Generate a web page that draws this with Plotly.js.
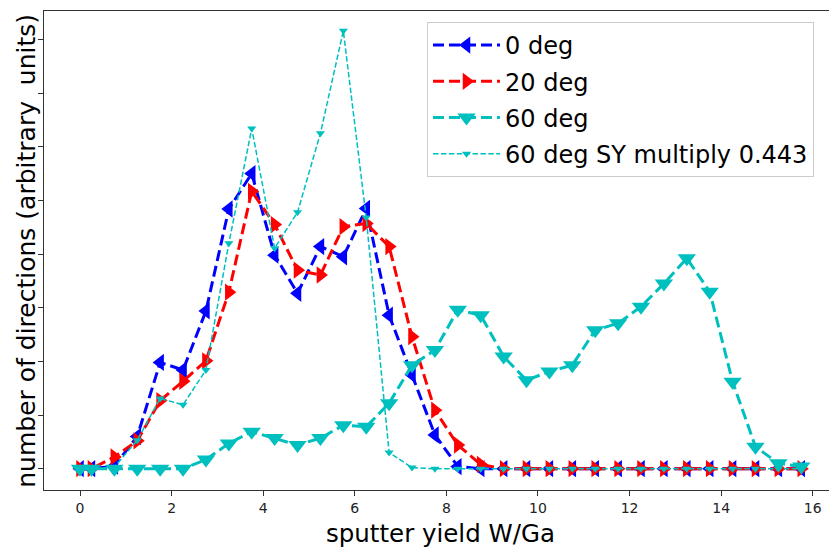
<!DOCTYPE html>
<html>
<head>
<meta charset="utf-8">
<script src="https://cdn.plot.ly/plotly-3.0.1.min.js"></script>
<style>
html, body { margin: 0; padding: 0; overflow: hidden; background: #fff; }
#chart { width: 850px; height: 548px; }
</style>
</head>
<body>
<div id="chart"></div>
<script>
// sputter yield bins (W/Ga)
var sputterYield = [0, 0.25, 0.75, 1.25, 1.75, 2.25, 2.75, 3.25, 3.75, 4.25, 4.75, 5.25, 5.75, 6.25, 6.75, 7.25, 7.75, 8.25,
                    8.75, 9.25, 9.75, 10.25, 10.75, 11.25, 11.75, 12.25, 12.75, 13.25, 13.75, 14.25, 14.75, 15.25, 15.75];

var deg0 = [0, 0, 0.05, 0.60, 1.98, 1.84, 2.94, 4.84, 5.50, 3.98, 3.27, 4.14, 3.95, 4.85, 2.86, 1.75, 0.63, 0.04,
            0, 0, 0, 0, 0, 0, 0, 0, 0, 0, 0, 0, 0, 0, 0];

var deg20 = [0, 0, 0.22, 0.52, 1.27, 1.63, 2.01, 3.29, 5.17, 4.55, 3.70, 3.61, 4.51, 4.57, 4.14, 2.46, 1.09, 0.44,
             0.08, 0, 0, 0, 0, 0, 0, 0, 0, 0, 0, 0, 0, 0, 0];

var deg60 = [0, 0, 0, 0, 0, 0, 0.17, 0.47, 0.69, 0.57, 0.44, 0.57, 0.81, 0.78, 1.22, 1.93, 2.21, 2.96,
             2.86, 2.09, 1.65, 1.81, 1.93, 2.58, 2.71, 3.02, 3.45, 3.92, 3.30, 1.62, 0.41, 0.10, 0.04];

var deg60SY = [0, 0, 0.03, 0.53, 1.31, 1.19, 1.84, 4.20, 6.34, 4.11, 4.78, 6.25, 8.16, 4.68, 0.30, 0.02, 0, 0,
               0, 0, 0, 0, 0, 0, 0, 0, 0, 0, 0, 0, 0, 0, 0];

var seriesNames = ['0 deg', '20 deg', '60 deg', '60 deg SY multiply 0.443'];
var yTicks = [0, 1, 2, 3, 4, 5, 6, 7, 8];
var xTicks = [0, 2, 4, 6, 8, 10, 12, 14, 16];

var FONT = 'DejaVu Sans, sans-serif';
var thickDash = '11px,5px';
var thinDash = '5.5px,2.4px';

var traces = [
  {x: sputterYield, y: deg0, name: seriesNames[0], mode: 'lines+markers', legendgroup: 'a',
   line: {color: '#0000ff', width: 3, dash: thickDash},
   marker: {symbol: 'triangle-left', size: 15, color: '#0000ff'}},
  {x: sputterYield, y: deg20, name: seriesNames[1], mode: 'lines+markers', legendgroup: 'b',
   line: {color: '#ff0000', width: 3, dash: thickDash},
   marker: {symbol: 'triangle-right', size: 15, color: '#ff0000'}},
  {x: sputterYield, y: deg60, name: seriesNames[2], mode: 'lines+markers', legendgroup: 'c',
   line: {color: '#00bfbf', width: 3, dash: thickDash},
   marker: {symbol: 'triangle-down', size: 16, color: '#00bfbf'}},
  {x: sputterYield, y: deg60SY, name: seriesNames[3], mode: 'lines+markers', legendgroup: 'd',
   line: {color: '#00bfbf', width: 1.5, dash: thinDash},
   marker: {symbol: 'triangle-down', size: 8, color: '#00bfbf'}}
];

var layout = {
  width: 850, height: 548,
  margin: {l: 44, r: 13, t: 11, b: 58},
  paper_bgcolor: '#ffffff', plot_bgcolor: '#ffffff',
  font: {family: FONT, size: 14, color: '#000'},
  showlegend: true,
  legend: {
    x: 0.483, xanchor: 'left', y: 0.977, yanchor: 'top',
    bgcolor: 'rgba(255,255,255,0.85)', bordercolor: '#cccccc', borderwidth: 1,
    font: {family: FONT, size: 24, color: '#000'},
    traceorder: 'grouped', tracegroupgap: 2, itemwidth: 67
  },
  xaxis: {
    range: [-0.786, 16.53], tickvals: xTicks, ticktext: xTicks.map(String),
    showgrid: false, zeroline: false, showline: true, mirror: true,
    linecolor: '#333', linewidth: 1, ticks: 'outside', ticklen: 5, tickwidth: 1, tickcolor: '#333',
    tickfont: {family: FONT, size: 14, color: '#222'}
  },
  yaxis: {
    range: [-0.397, 8.53], tickvals: yTicks, showticklabels: false,
    showgrid: false, zeroline: false, showline: true, mirror: true,
    linecolor: '#333', linewidth: 1, ticks: 'outside', ticklen: 5, tickwidth: 1, tickcolor: '#333'
  },
  annotations: [
    {text: 'sputter yield W/Ga', xref: 'paper', yref: 'paper', x: 0.5, y: -0.09,
     xanchor: 'center', yanchor: 'middle', showarrow: false,
     font: {family: FONT, size: 24.5, color: '#000'}},
    {text: 'number of directions (arbitrary\u00a0 units)', xref: 'paper', yref: 'paper',
     x: -0.0214, y: 0.4995, xanchor: 'center', yanchor: 'middle', textangle: -90, showarrow: false,
     font: {family: FONT, size: 25, color: '#000'}}
  ]
};

Plotly.newPlot('chart', traces, layout, {displayModeBar: false, staticPlot: true});
</script>
</body>
</html>
